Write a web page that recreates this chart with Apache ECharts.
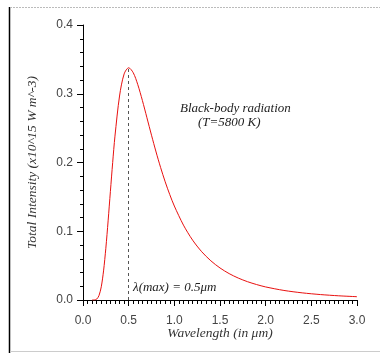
<!DOCTYPE html>
<html>
<head>
<meta charset="utf-8">
<script src="https://cdn.jsdelivr.net/npm/echarts@6/dist/echarts.min.js"></script>
<style>html,body{margin:0;padding:0;background:#fff;}#c{width:380px;height:353px;}</style>
</head>
<body>
<div id="c"></div>
<script>
var wavelengths = [0.10,0.125,0.15,0.175,0.20,0.225,0.25,0.275,0.30,0.325,0.35,0.40,0.45,0.50,0.55,0.60,0.65,0.70,0.75,0.80,0.85,0.90,0.95,1.00,1.10,1.20,1.30,1.40,1.50,1.60,1.70,1.80,1.90,2.00,2.20,2.40,2.60,2.80,3.00];
var intensity = [0.0000,0.0001,0.0013,0.0064,0.0192,0.0423,0.0752,0.1151,0.158,0.200,0.2383,0.2967,0.3287,0.3378,0.3306,0.3132,0.2903,0.2651,0.2397,0.2153,0.1926,0.1719,0.1533,0.1367,0.1089,0.0871,0.0702,0.0570,0.0466,0.0384,0.0319,0.0267,0.0225,0.0190,0.0139,0.0104,0.0079,0.0061,0.0048];
var peakWavelength = 0.5;
var peakValue = 0.336;
var xTicks = [0,3,0.5];
var yTicks = [0,0.4,0.1];

var seriesData = wavelengths.map(function(w,i){return [w,intensity[i]];});
var chart = echarts.init(document.getElementById('c'));
var serif = '"Liberation Serif", "DejaVu Serif", serif';
chart.setOption({
  animation:false,
  backgroundColor:'#fff',
  grid:{left:83,right:23,top:25,bottom:53},
  xAxis:{type:'value',min:xTicks[0],max:xTicks[1],interval:xTicks[2],
    name:'Wavelength (in \u03bcm)',nameLocation:'middle',nameGap:26,nameMoveOverlap:false,
    nameTextStyle:{fontFamily:serif,fontStyle:'italic',fontSize:13.5,color:'#333'},
    axisLine:{lineStyle:{color:'#000',width:1}},
    axisTick:{show:true,length:6,lineStyle:{color:'#000'}},
    minorTick:{show:true,splitNumber:10,length:4,lineStyle:{color:'#000'}},
    axisLabel:{formatter:function(v){return v.toFixed(1);},fontFamily:'"Liberation Sans", Arial, sans-serif',fontSize:12,color:'#444',margin:15},
    splitLine:{show:false}},
  yAxis:{type:'value',min:yTicks[0],max:yTicks[1],interval:yTicks[2],
    name:'Total Intensity (x10^15 W m^-3)',nameLocation:'middle',nameGap:44,nameMoveOverlap:false,
    nameTextStyle:{fontFamily:serif,fontStyle:'italic',fontSize:13.5,color:'#333'},
    axisLine:{show:true,lineStyle:{color:'#000',width:1}},
    axisTick:{show:true,length:6,lineStyle:{color:'#000'}},
    minorTick:{show:true,splitNumber:5,length:3,lineStyle:{color:'#000'}},
    axisLabel:{formatter:function(v){return v.toFixed(1);},fontFamily:'"Liberation Sans", Arial, sans-serif',fontSize:12,color:'#444',margin:10},
    splitLine:{show:false}},
  series:[{type:'line',data:seriesData,smooth:0.3,showSymbol:false,
    lineStyle:{color:'#e8100f',width:1},
    markLine:{silent:true,symbol:'none',label:{show:false},
      lineStyle:{color:'#555',type:[3,3],width:1},
      data:[[{coord:[peakWavelength,0]},{coord:[peakWavelength,peakValue]}]]}}],
  graphic:[
    {type:'line',shape:{x1:9.5,y1:7,x2:9.5,y2:353},style:{stroke:'#000',lineWidth:1.5}},
    {type:'line',shape:{x1:10,y1:7.5,x2:380,y2:7.5},style:{stroke:'#bbb',lineWidth:1,lineDash:[2,1]}},
    {type:'line',shape:{x1:10,y1:351.5,x2:380,y2:351.5},style:{stroke:'#ccc',lineWidth:1}},
    {type:'text',left:180,top:102,style:{text:'Black-body radiation',fontFamily:serif,fontStyle:'italic',fontSize:13,fill:'#222'}},
    {type:'text',left:198,top:116,style:{text:'(T=5800 K)',fontFamily:serif,fontStyle:'italic',fontSize:13,fill:'#222'}},
    {type:'text',left:133,top:281,style:{text:'\u03bb(max) = 0.5\u03bcm',fontFamily:serif,fontStyle:'italic',fontSize:13,fill:'#222'}}
  ]
});
</script>
</body>
</html>
